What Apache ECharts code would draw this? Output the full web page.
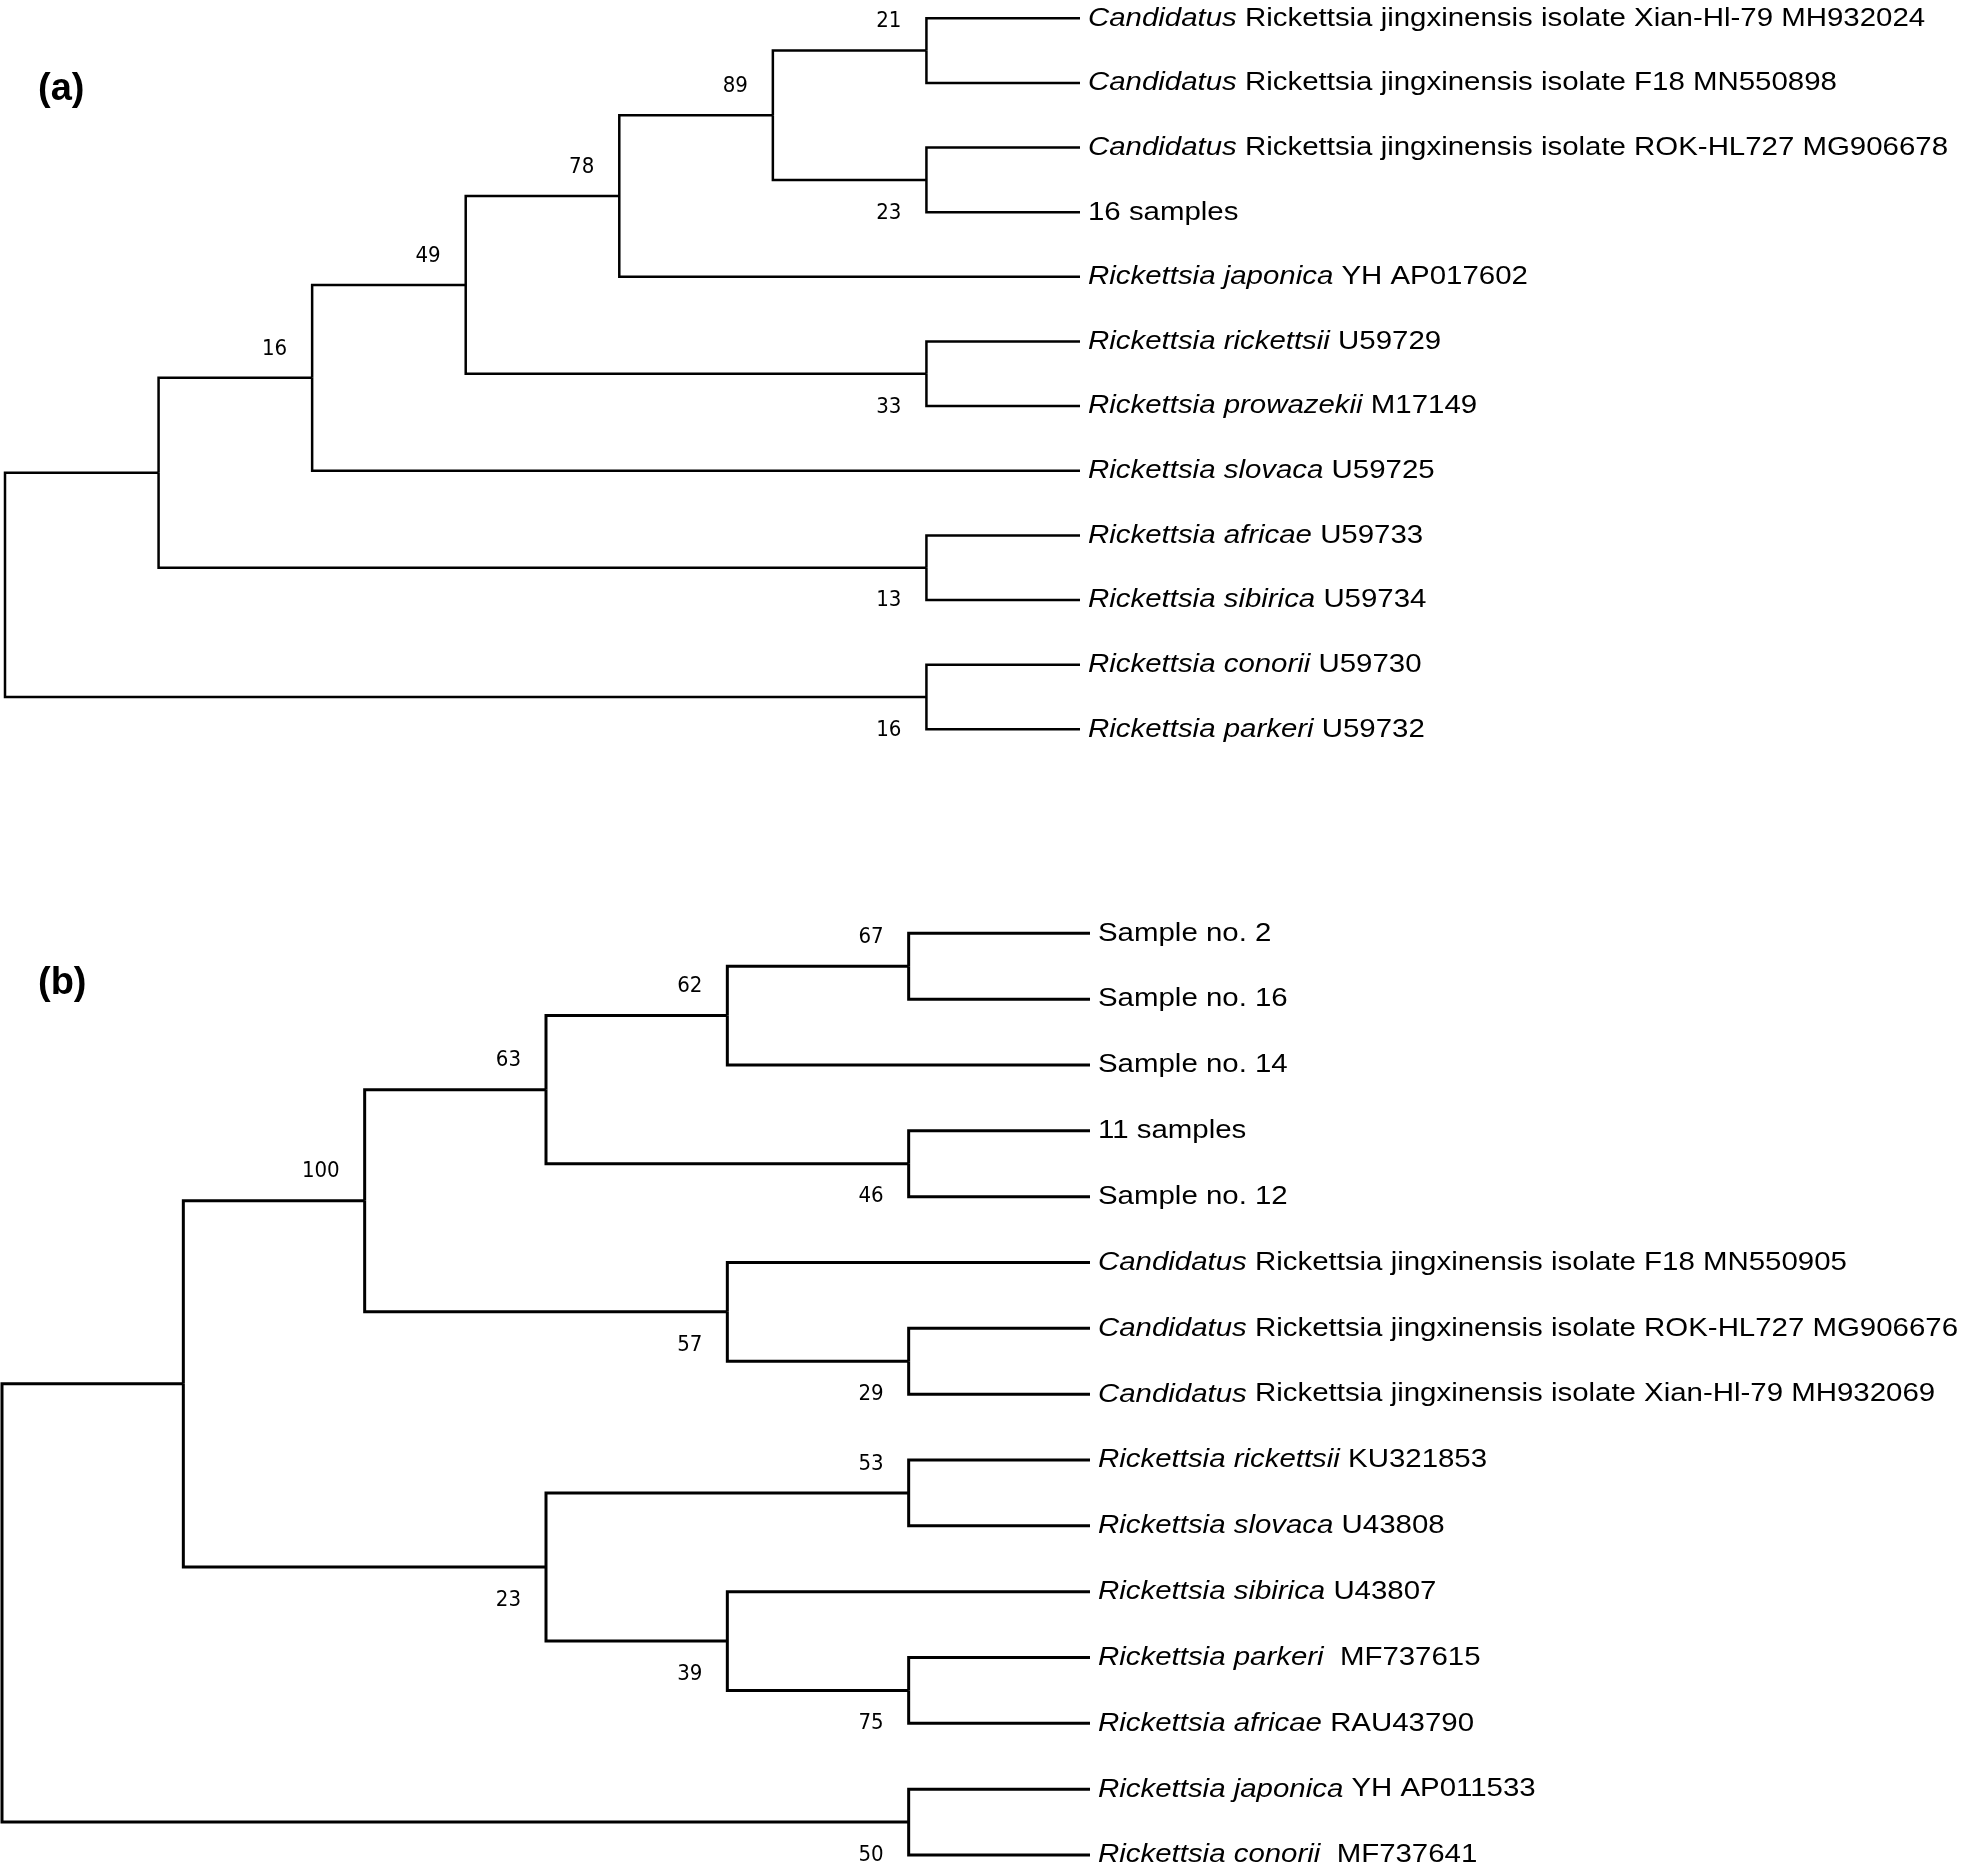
<!DOCTYPE html>
<html><head><meta charset="utf-8">
<script src="https://cdn.jsdelivr.net/npm/echarts@6/dist/echarts.min.js"></script>
<style>html,body{margin:0;padding:0;background:#fff}#c{width:1961px;height:1874px}</style>
</head><body><div id="c"></div>
<script>
// ---------- DATA ----------
// Panel (a) leaves, top to bottom: [italic part, regular part]
const leavesA = [
  ['Candidatus', ' Rickettsia jingxinensis isolate Xian-Hl-79 MH932024'],
  ['Candidatus', ' Rickettsia jingxinensis isolate F18 MN550898'],
  ['Candidatus', ' Rickettsia jingxinensis isolate ROK-HL727 MG906678'],
  ['', '16 samples'],
  ['Rickettsia japonica', ' YH AP017602'],
  ['Rickettsia rickettsii', ' U59729'],
  ['Rickettsia prowazekii', ' M17149'],
  ['Rickettsia slovaca', ' U59725'],
  ['Rickettsia africae', ' U59733'],
  ['Rickettsia sibirica', ' U59734'],
  ['Rickettsia conorii', ' U59730'],
  ['Rickettsia parkeri', ' U59732']
];
// topology of (a): leaf indices, bootstrap value written after each clade
const treeA = '(((((((0,1)21,(2,3)23)89,4)78,(5,6)33)49,7)16,(8,9)13),(10,11)16)';

// Panel (b)
const leavesB = [
  ['', 'Sample no. 2'],
  ['', 'Sample no. 16'],
  ['', 'Sample no. 14'],
  ['', '11 samples'],
  ['', 'Sample no. 12'],
  ['Candidatus', ' Rickettsia jingxinensis isolate F18 MN550905'],
  ['Candidatus', ' Rickettsia jingxinensis isolate ROK-HL727 MG906676'],
  ['Candidatus', ' Rickettsia jingxinensis isolate Xian-Hl-79 MH932069'],
  ['Rickettsia rickettsii', ' KU321853'],
  ['Rickettsia slovaca', ' U43808'],
  ['Rickettsia sibirica', ' U43807'],
  ['Rickettsia parkeri', '  MF737615'],
  ['Rickettsia africae', ' RAU43790'],
  ['Rickettsia japonica', ' YH AP011533'],
  ['Rickettsia conorii', '  MF737641']
];
const treeB = '((((((0,1)67,2)62,(3,4)46)63,(5,(6,7)29)57)100,((8,9)53,(10,(11,12)75)39)23),(13,14)50)';

const panelLabels = ['(a)', '(b)'];

// ---------- TREE LAYOUT (topology-only cladogram) ----------
function parseTree(s) {
  let i = 0;
  function node() {
    if (s[i] === '(') {
      i++;
      const ch = [node()];
      while (s[i] === ',') { i++; ch.push(node()); }
      i++;
      let lab = '';
      while (i < s.length && /[0-9]/.test(s[i])) lab += s[i++];
      return { children: ch, support: lab };
    }
    let lab = '';
    while (/[0-9]/.test(s[i])) lab += s[i++];
    return { leaf: +lab };
  }
  return node();
}
function height(n) {
  if (n.children) { n.h = 1 + Math.max(...n.children.map(height)); } else n.h = 0;
  return n.h;
}
function layout(n, H) {
  n.x = H - n.h;
  if (n.children) {
    n.children.forEach(c => layout(c, H));
    n.y = (n.children[0].y + n.children[n.children.length - 1].y) / 2;
  } else n.y = n.leaf;
}
function build(treeStr) {
  const root = parseTree(treeStr);
  const H = height(root);
  layout(root, H);
  const branches = [], supports = [];
  (function walk(n, isUpper, parent) {
    if (!n.children) return;
    if (parent && n.support) supports.push([n.x, n.y, +n.support, isUpper ? 1 : 0]);
    n.children.forEach((c, k) => {
      branches.push([n.x, n.y, n.x, c.y, c.x, c.y]);
      walk(c, k === 0, n);
    });
  })(root, true, null);
  return { H, branches, supports };
}
const TA = build(treeA), TB = build(treeB);

// ---------- RENDER ----------
const chart = echarts.init(document.getElementById('c'), null, { renderer: 'canvas' });
const LABEL_FONT = 'Liberation Sans, Arial, sans-serif';
const BOOT_FONT = "'DejaVu Sans Condensed', 'DejaVu Sans', sans-serif";
const FS = 26.5;

function branchSeries(idx, data, lw) {
  return {
    type: 'custom', xAxisIndex: idx, yAxisIndex: idx, silent: true,
    encode: { x: [0, 2, 4], y: [1, 3, 5] },
    data: data,
    renderItem: function (params, api) {
      const pts = [
        api.coord([api.value(0), api.value(1)]),
        api.coord([api.value(2), api.value(3)]),
        api.coord([api.value(4), api.value(5)])
      ];
      return { type: 'polyline', shape: { points: pts },
        style: { stroke: '#000', lineWidth: lw, fill: null, lineJoin: 'miter', lineCap: 'butt' } };
    }
  };
}
function leafSeries(idx, leaves, H) {
  return {
    type: 'custom', xAxisIndex: idx, yAxisIndex: idx, silent: true,
    encode: { x: 0, y: 1 },
    data: leaves.map((l, i) => [H, i]),
    renderItem: function (params, api) {
      const p = api.coord([api.value(0), api.value(1)]);
      const l = leaves[params.dataIndex];
      const txt = (l[0] ? '{i|' + l[0] + '}' : '') + '{n|' + l[1] + '}';
      return {
        type: 'text', x: p[0] + 8, y: p[1], scaleX: 1.11, scaleY: 1,
        style: {
          text: txt, align: 'left', verticalAlign: 'middle',
          fontSize: FS, fontFamily: LABEL_FONT, fill: '#000',
          rich: {
            i: { fontStyle: 'italic', fontSize: FS, fontFamily: LABEL_FONT, fill: '#000' },
            n: { fontStyle: 'normal', fontSize: FS, fontFamily: LABEL_FONT, fill: '#000' }
          }
        }
      };
    }
  };
}
function supportSeries(idx, data) {
  return {
    type: 'custom', xAxisIndex: idx, yAxisIndex: idx, silent: true,
    encode: { x: 0, y: 1 },
    data: data,
    renderItem: function (params, api) {
      const p = api.coord([api.value(0), api.value(1)]);
      const up = api.value(3) === 1;
      return {
        type: 'text', x: p[0] - 25, y: p[1] + (up ? -29 : 33),
        style: { text: String(api.value(2)), align: 'right', verticalAlign: 'middle',
          fontSize: 22, fontFamily: BOOT_FONT, fill: '#000' }
      };
    }
  };
}

const hiddenX = (H) => ({ type: 'value', min: 0, max: H, show: false });
const hiddenY = (n) => ({ type: 'value', min: 0, max: n, inverse: true, show: false });

chart.setOption({
  backgroundColor: '#fff',
  animation: false,
  grid: [
    { left: 5, top: 18.3, width: 1075, height: 711 },
    { left: 2, top: 933.3, width: 1088, height: 921.7 }
  ],
  xAxis: [hiddenX(TA.H), Object.assign(hiddenX(TB.H), { gridIndex: 1 })],
  yAxis: [hiddenY(leavesA.length - 1), Object.assign(hiddenY(leavesB.length - 1), { gridIndex: 1 })],
  graphic: [
    { type: 'text', x: 38, y: 90, style: { text: panelLabels[0], font: 'bold 38px Liberation Sans, Arial, sans-serif', fill: '#000', verticalAlign: 'middle' } },
    { type: 'text', x: 38, y: 984, style: { text: panelLabels[1], font: 'bold 38px Liberation Sans, Arial, sans-serif', fill: '#000', verticalAlign: 'middle' } }
  ],
  series: [
    branchSeries(0, TA.branches, 2.5),
    leafSeries(0, leavesA, TA.H),
    supportSeries(0, TA.supports),
    branchSeries(1, TB.branches, 3),
    leafSeries(1, leavesB, TB.H),
    supportSeries(1, TB.supports)
  ]
});
</script>
</body></html>
